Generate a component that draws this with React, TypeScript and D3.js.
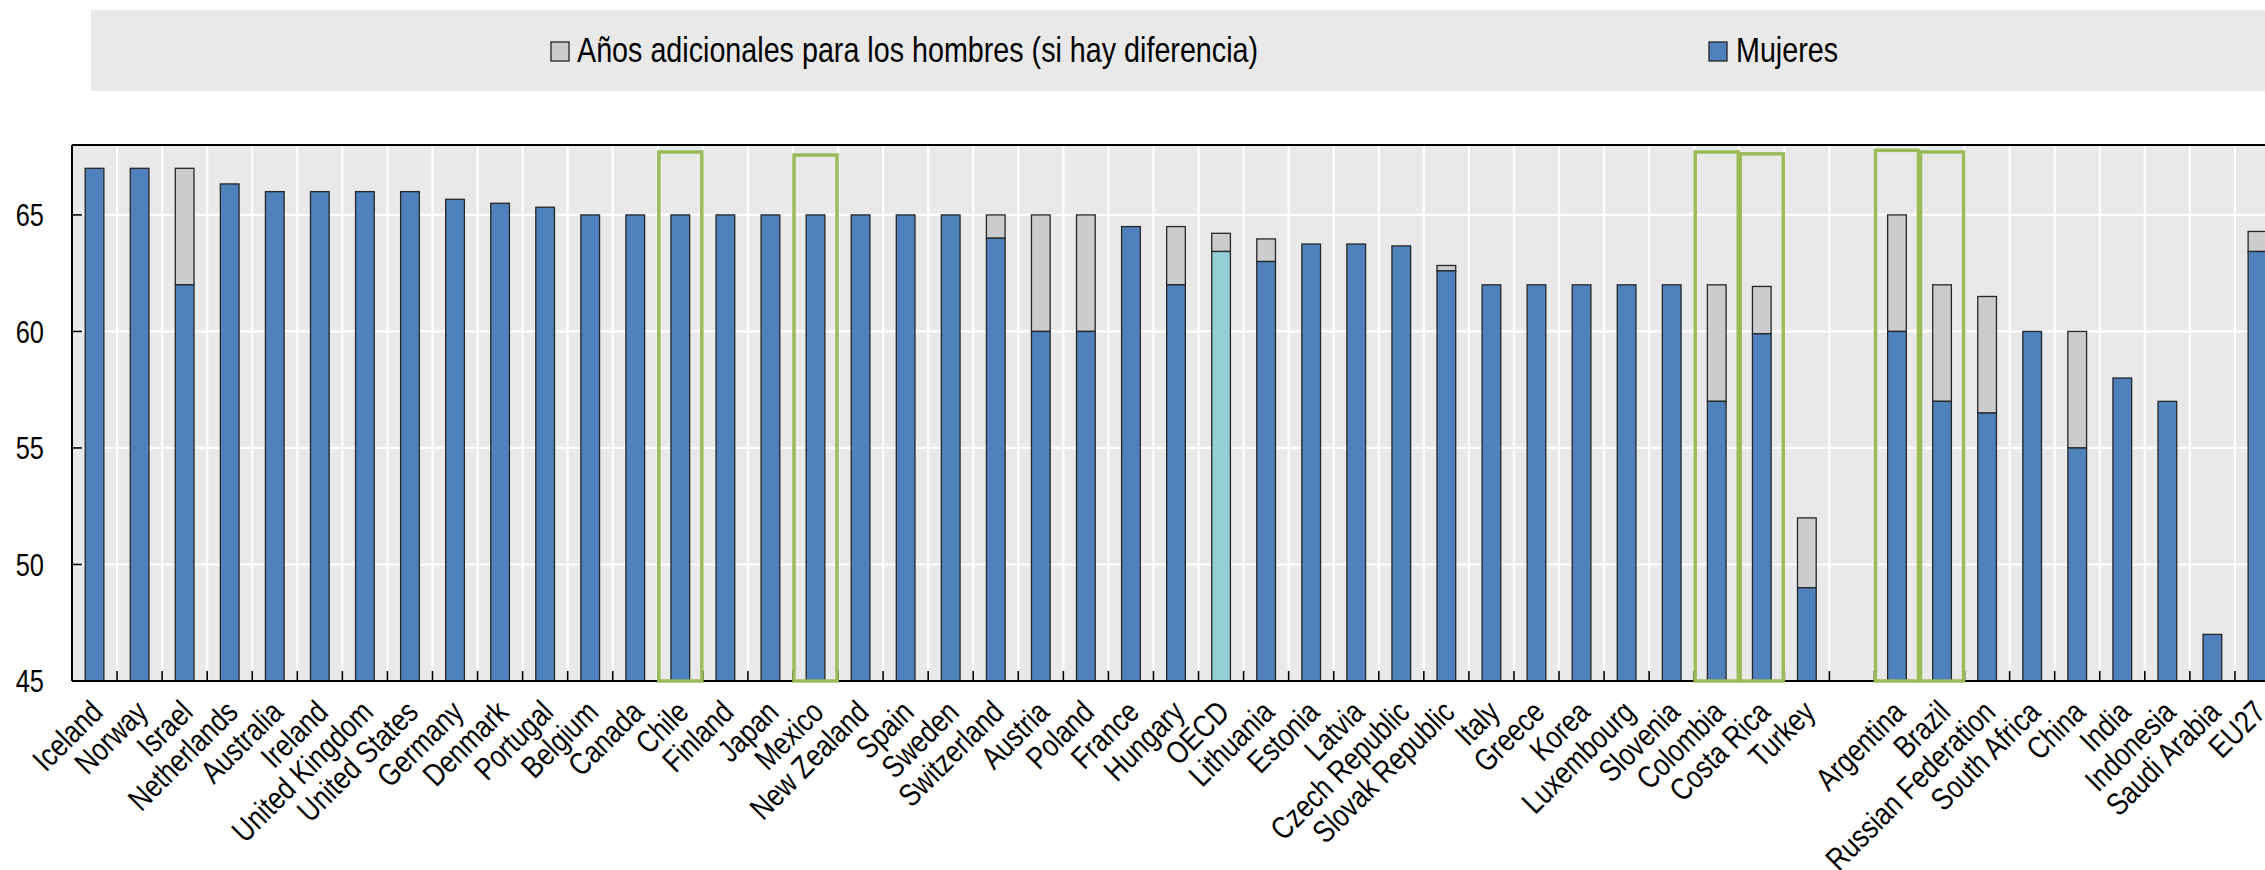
import React from 'react';
import * as d3 from 'd3';

const W = 2265;
const H = 870;

const categories = [
  'Iceland', 'Norway', 'Israel', 'Netherlands', 'Australia', 'Ireland', 'United Kingdom', 'United States',
  'Germany', 'Denmark', 'Portugal', 'Belgium', 'Canada', 'Chile', 'Finland', 'Japan', 'Mexico',
  'New Zealand', 'Spain', 'Sweden', 'Switzerland', 'Austria', 'Poland', 'France', 'Hungary', 'OECD',
  'Lithuania', 'Estonia', 'Latvia', 'Czech Republic', 'Slovak Republic', 'Italy', 'Greece', 'Korea',
  'Luxembourg', 'Slovenia', 'Colombia', 'Costa Rica', 'Turkey', '',
  'Argentina', 'Brazil', 'Russian Federation', 'South Africa', 'China', 'India', 'Indonesia',
  'Saudi Arabia', 'EU27',
];

// Mujeres (women) pensionable age
const women: (number | null)[] = [
  67, 67, 62, 66.33, 66, 66, 66, 66,
  65.67, 65.5, 65.33, 65, 65, 65, 65, 65, 65,
  65, 65, 65, 64, 60, 60, 64.5, 62, 63.43,
  63, 63.75, 63.75, 63.67, 62.6, 62, 62, 62,
  62, 62, 57, 59.9, 49, null,
  60, 57, 56.5, 60, 55, 58, 57,
  47, 63.43,
];

// Men pensionable age (women + additional years)
const men: (number | null)[] = [
  67, 67, 67, 66.33, 66, 66, 66, 66,
  65.67, 65.5, 65.33, 65, 65, 65, 65, 65, 65,
  65, 65, 65, 65, 65, 65, 64.5, 64.5, 64.21,
  63.97, 63.75, 63.75, 63.67, 62.83, 62, 62, 62,
  62, 62, 62, 61.93, 52, null,
  65, 62, 61.5, 60, 60, 58, 57,
  47, 64.29,
];

const yTicks = [45, 50, 55, 60, 65];
const highlighted = ['Chile', 'Mexico', 'Colombia', 'Costa Rica', 'Argentina', 'Brazil'];
const highlightTop = [67.7, 67.57, 67.7, 67.62, 67.77, 67.7];

const legendLabels = ['Años adicionales para los hombres (si hay diferencia)', 'Mujeres'];

const BLUE = '#4f81bd';
const GREY = '#cccccc';
const TEAL = '#92cfd6';
const GREEN = '#9bbb59';
const BG = '#e9e9e9';
const FONT = "'Liberation Sans', Arial, sans-serif";
const NARROW = 0.82;

export default function App() {
  const idx = categories.map((_, i) => i);
  const x = d3.scaleBand<number>().domain(idx).range([72, 2280]).paddingInner(0).paddingOuter(0);
  const y = d3.scaleLinear().domain([45, 68]).range([681, 145]);
  const bw = x.bandwidth();
  const barW = bw * 0.415;
  const cx = (i: number) => (x(i) as number) + bw / 2;
  const [x0, x1] = x.range();
  const [yb, yt] = y.range();

  return (
    <svg width={W} height={H} style={{ position: 'absolute', left: 0, top: 0, background: '#fff' }}
      fontFamily={FONT}>
      {/* legend */}
      <rect x={91} y={10} width={W - 91} height={81} fill={BG} />
      <rect x={551} y={42} width={18} height={19} fill={GREY} stroke="#222" strokeWidth={1.3} />
      <text transform={`translate(577,62) scale(${NARROW},1)`} fontSize={35} fill="#000">{legendLabels[0]}</text>
      <rect x={1709} y={42} width={18} height={19} fill={BLUE} stroke="#222" strokeWidth={1.3} />
      <text transform={`translate(1736,62) scale(${NARROW},1)`} fontSize={35} fill="#000">{legendLabels[1]}</text>

      {/* plot background */}
      <rect x={x0} y={yt} width={x1 - x0} height={yb - yt} fill={BG} />
      {/* horizontal grid */}
      {yTicks.filter(t => t > 45).map(t => (
        <line key={'h' + t} x1={x0} x2={x1} y1={y(t)} y2={y(t)} stroke="#fff" strokeWidth={2.2} />
      ))}
      {/* vertical grid at category boundaries */}
      {idx.slice(1).map(i => (
        <line key={'v' + i} x1={x(i)} x2={x(i)} y1={yt} y2={yb} stroke="#fff" strokeWidth={2.2} />
      ))}

      {/* bars */}
      {idx.map(i => {
        const w = women[i];
        const m = men[i];
        if (w == null || m == null) return null;
        const left = cx(i) - barW / 2;
        const isOECD = categories[i] === 'OECD';
        return (
          <g key={'b' + i}>
            {m > w && (
              <rect x={left} y={y(m)} width={barW} height={y(w) - y(m)} fill={GREY} stroke="#262626" strokeWidth={1.3} />
            )}
            <rect x={left} y={y(w)} width={barW} height={yb - y(w)} fill={isOECD ? TEAL : BLUE} stroke="#262626" strokeWidth={1.3} />
          </g>
        );
      })}

      {/* axes */}
      <line x1={x0} x2={x1} y1={yt} y2={yt} stroke="#000" strokeWidth={2} />
      <line x1={x0} x2={x0} y1={yt} y2={yb} stroke="#000" strokeWidth={2} />
      <line x1={x0} x2={x1} y1={yb} y2={yb} stroke="#000" strokeWidth={2.2} />
      {idx.slice(1).map(i => (
        <line key={'t' + i} x1={x(i)} x2={x(i)} y1={yb} y2={yb - 10} stroke="#000" strokeWidth={1.6} />
      ))}
      {yTicks.map(t => (
        <g key={'y' + t}>
          <line x1={x0} x2={x0 + 10} y1={y(t)} y2={y(t)} stroke="#000" strokeWidth={1.6} />
          <text transform={`translate(44,${y(t)}) scale(${NARROW},1)`} dy="0.36em" textAnchor="end" fontSize={31} fill="#000">{t}</text>
        </g>
      ))}

      {/* highlight boxes */}
      {highlighted.map((name, k) => {
        const i = categories.indexOf(name);
        const bx = bw * 0.955;
        return (
          <rect key={'g' + name} x={cx(i) - bx / 2} y={y(highlightTop[k])} width={bx}
            height={yb - y(highlightTop[k])} fill="none" stroke={GREEN} strokeWidth={3.5} />
        );
      })}

      {/* category labels */}
      {idx.map(i => categories[i] ? (
        <text key={'l' + i} transform={`translate(${cx(i) + 2},${yb + 25}) rotate(-45) scale(${NARROW},1)`}
          textAnchor="end" dy="0.36em" fontSize={31.5} fill="#000">{categories[i]}</text>
      ) : null)}
    </svg>
  );
}
